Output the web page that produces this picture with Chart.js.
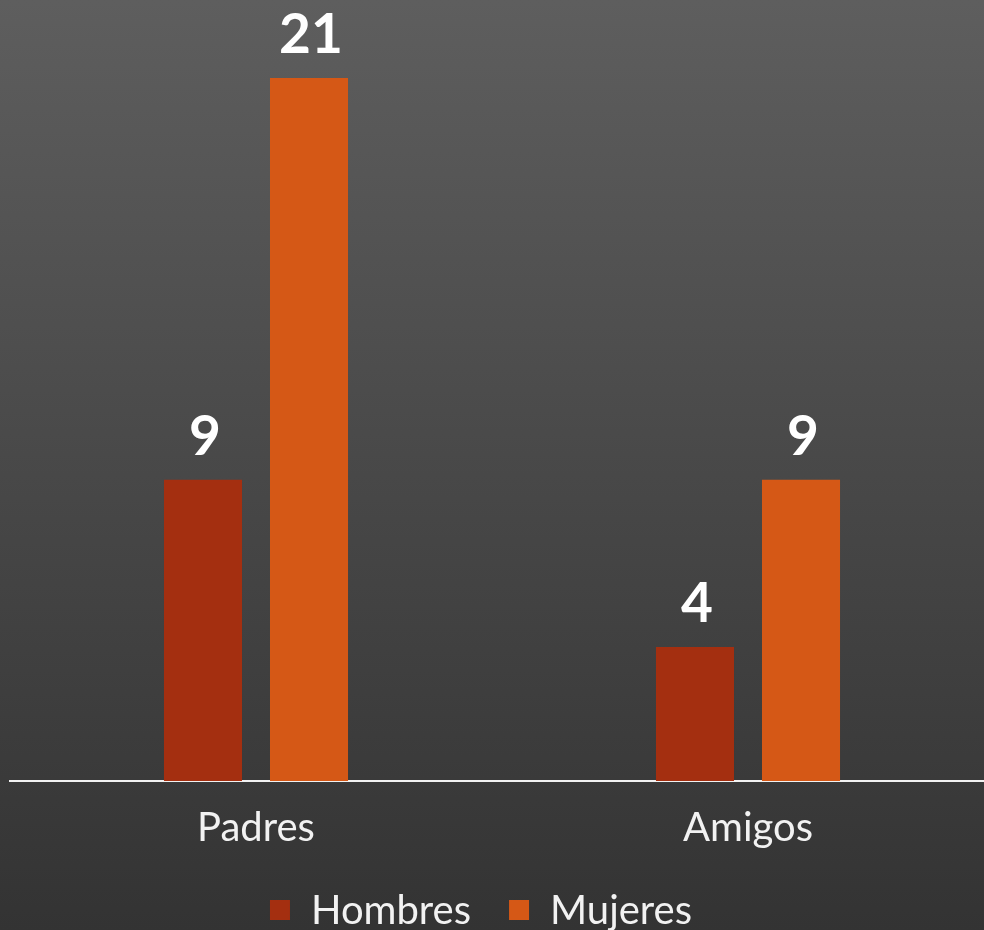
<!DOCTYPE html>
<html>
<head>
<meta charset="utf-8">
<script src="https://cdn.jsdelivr.net/npm/chart.js@4/dist/chart.umd.min.js"></script>
<style>
  html, body { margin: 0; padding: 0; overflow: hidden; background: #353535; }
  #wrap { width: 1000px; height: 930px; }
</style>
</head>
<body>
<div id="wrap"><canvas id="myChart" width="1000" height="930"></canvas></div>
<script>
const categories = ['Padres', 'Amigos'];
const hombres = [9, 4];
const mujeres = [21, 9];
const seriesNames = ['Hombres', 'Mujeres'];

const colors = {
  hombres: '#A42F10',
  mujeres: '#D55816',
  text: '#F2F2F2',
  bgTop: '#5E5E5E',
  bgBottom: '#333333'
};

const backgroundPlugin = {
  id: 'gradientBg',
  beforeDraw(chart) {
    const ctx = chart.ctx;
    const grad = ctx.createLinearGradient(0, 0, 0, chart.height);
    grad.addColorStop(0, colors.bgTop);
    grad.addColorStop(1, colors.bgBottom);
    ctx.save();
    ctx.fillStyle = grad;
    ctx.fillRect(0, 0, chart.width, chart.height);
    ctx.restore();
  }
};

const valueLabels = {
  id: 'valueLabels',
  afterDatasetsDraw(chart) {
    const ctx = chart.ctx;
    ctx.save();
    ctx.fillStyle = '#FFFFFF';
    ctx.font = 'bold 55px Lato';
    ctx.textAlign = 'center';
    ctx.textBaseline = 'alphabetic';
    chart.data.datasets.forEach((ds, i) => {
      chart.getDatasetMeta(i).data.forEach((bar, j) => {
        ctx.fillText(String(ds.data[j]), bar.x + 2, bar.y - 25);
      });
    });
    ctx.restore();
  }
};

// legend drawn by hand so it can sit at the same spot as the original
const bottomLegend = {
  id: 'bottomLegend',
  afterDraw(chart) {
    const ctx = chart.ctx;
    const box = 20, gap = 21, spacing = 38, centerX = 481, centerY = 910;
    ctx.save();
    ctx.font = '40px Lato';
    ctx.textBaseline = 'middle';
    ctx.textAlign = 'left';
    const items = chart.data.datasets.map(ds => ({
      text: ds.label,
      color: ds.backgroundColor,
      w: ctx.measureText(ds.label).width
    }));
    const total = items.reduce((acc, it) => acc + box + gap + it.w, 0) + spacing * (items.length - 1);
    let x = centerX - total / 2;
    items.forEach(it => {
      ctx.fillStyle = it.color;
      ctx.fillRect(x, centerY - box / 2, box, box);
      ctx.fillStyle = colors.text;
      ctx.fillText(it.text, x + box + gap, centerY + 1);
      x += box + gap + it.w + spacing;
    });
    ctx.restore();
  }
};

new Chart(document.getElementById('myChart'), {
  type: 'bar',
  data: {
    labels: categories,
    datasets: [
      { label: seriesNames[0], data: hombres, backgroundColor: colors.hombres },
      { label: seriesNames[1], data: mujeres, backgroundColor: colors.mujeres }
    ]
  },
  options: {
    responsive: false,
    animation: false,
    categoryPercentage: 0.431,
    barPercentage: 0.736,
    layout: { padding: { left: 10, right: 6, top: 0, bottom: 63 } },
    plugins: {
      tooltip: { enabled: false },
      legend: { display: false }
    },
    scales: {
      x: {
        grid: { display: false },
        border: { color: '#F2F2F2', width: 2 },
        ticks: { color: colors.text, font: { family: 'Lato', size: 40 }, padding: 15 }
      },
      y: {
        display: false,
        min: 0,
        max: 23.33
      }
    }
  },
  plugins: [backgroundPlugin, valueLabels, bottomLegend]
});
</script>
</body>
</html>
